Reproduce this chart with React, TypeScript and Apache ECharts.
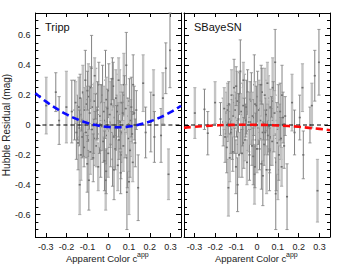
import React, { useEffect, useRef } from "react";
import * as echarts from "echarts";

const colorApp = [
  -0.298, -0.252, -0.236, -0.201, -0.175, -0.162, -0.137, -0.093, -0.08, -0.012,
  -0.013, 0.028, 0.075, 0.087, 0.09, 0.1, 0.12, 0.144, 0.168, 0.18,
  0.205, 0.218, 0.222, 0.254, 0.263, 0.277, 0.297, 0.29,
  -0.148, -0.145, -0.141, -0.138, -0.135, -0.131, -0.128, -0.125, -0.122, -0.119,
  -0.116, -0.113, -0.11, -0.107, -0.104, -0.101, -0.098, -0.095, -0.092, -0.089,
  -0.086, -0.083, -0.078, -0.075, -0.072, -0.069, -0.066, -0.063, -0.06, -0.057,
  -0.054, -0.051, -0.048, -0.045, -0.042, -0.039, -0.036, -0.033, -0.03, -0.027,
  -0.024, -0.021, -0.018, -0.015, -0.009, -0.006, -0.003, 0.0, 0.003, 0.006,
  0.009, 0.012, 0.015, 0.018, 0.021, 0.024, 0.027, 0.031, 0.034, 0.037,
  0.04, 0.043, 0.046, 0.049, 0.052, 0.055, 0.058, 0.061, 0.064, 0.067,
  0.07, 0.073, 0.078, 0.081, 0.084, 0.092, 0.095, 0.098, 0.102, 0.105,
  0.108, 0.111, 0.115, 0.118, 0.125, -0.153, -0.157, 0.13, 0.135, -0.065,
  0.02, -0.01, 0.05, -0.1, 0.06,
];

const trippResid = [
  0.13, 0.22, 0.03, 0.12, 0.09, 0.1, -0.4, -0.37, 0.38, -0.37,
  0.3, -0.3, 0.27, 0.4, -0.45, -0.38, 0.27, -0.42, 0.28, -0.05,
  0.02, 0.2, -0.08, -0.07, 0.18, 0.38, 0.5, -0.33,
  0.05, -0.12, 0.12, -0.02, 0.18, -0.2, 0.07, -0.08, 0.22, 0.0,
  -0.15, 0.1, 0.3, -0.05, 0.14, -0.26, 0.03, 0.19, -0.1, 0.08,
  -0.18, 0.25, -0.03, 0.12, -0.22, 0.04, 0.16, -0.09, 0.21, -0.14,
  0.01, 0.1, -0.28, 0.27, -0.06, 0.06, -0.17, 0.15, -0.01, 0.2,
  -0.11, 0.09, -0.24, 0.03, 0.17, -0.07, 0.11, -0.19, 0.23, -0.04,
  0.07, -0.13, 0.14, 0.0, -0.23, 0.26, -0.08, 0.05, -0.16, 0.18,
  -0.02, 0.09, -0.27, 0.13, -0.1, 0.22, 0.02, -0.2, 0.15, -0.05,
  0.08, -0.14, 0.2, -0.03, 0.11, -0.22, 0.06, -0.09, 0.16, -0.17,
  0.03, 0.12, -0.06, -0.25, 0.08, -0.05, 0.15, -0.12, 0.1, 0.33,
  0.31, -0.31, 0.3, 0.23, -0.32,
];

const trippErr = [
  0.19, 0.13, 0.16, 0.24, 0.21, 0.2, 0.2, 0.2, 0.22, 0.2,
  0.2, 0.2, 0.21, 0.22, 0.25, 0.22, 0.2, 0.22, 0.19, 0.17,
  0.2, 0.17, 0.17, 0.18, 0.17, 0.17, 0.25, 0.17,
  0.15, 0.18, 0.2, 0.12, 0.16, 0.17, 0.11, 0.14, 0.18, 0.21,
  0.13, 0.15, 0.2, 0.17, 0.12, 0.19, 0.14, 0.22, 0.11, 0.18,
  0.15, 0.14, 0.2, 0.13, 0.16, 0.23, 0.12, 0.18, 0.17, 0.14,
  0.11, 0.19, 0.16, 0.15, 0.13, 0.21, 0.18, 0.12, 0.16, 0.2,
  0.14, 0.17, 0.2, 0.12, 0.15, 0.19, 0.13, 0.16, 0.18, 0.11,
  0.22, 0.15, 0.17, 0.13, 0.18, 0.16, 0.2, 0.12, 0.14, 0.19,
  0.15, 0.11, 0.17, 0.21, 0.13, 0.15, 0.18, 0.16, 0.12, 0.2,
  0.14, 0.17, 0.13, 0.19, 0.16, 0.2, 0.12, 0.22, 0.15, 0.18,
  0.14, 0.2, 0.15, 0.13, 0.18, 0.18, 0.14, 0.16, 0.13, 0.12,
  0.14, 0.15, 0.15, 0.13, 0.14,
];

const sbayesnResid = [
  0.08, 0.105, -0.055, 0.15, 0.04, 0.02, -0.42, -0.4, 0.36, -0.33,
  0.27, -0.34, 0.25, 0.42, -0.46, -0.3, 0.2, -0.48, 0.15, -0.05,
  0.05, 0.25, -0.2, 0.0, 0.13, 0.33, 0.42, -0.44,
  0.08, -0.15, 0.1, 0.01, 0.14, -0.22, 0.04, -0.05, 0.2, -0.03,
  -0.18, 0.06, 0.25, -0.02, 0.1, -0.28, 0.05, 0.16, -0.08, 0.04,
  -0.2, 0.21, 0.0, 0.09, -0.19, 0.07, 0.13, -0.12, 0.18, -0.1,
  0.03, 0.12, -0.25, 0.22, -0.04, 0.02, -0.2, 0.17, 0.02, 0.16,
  -0.14, 0.06, -0.21, 0.05, 0.14, -0.1, 0.13, -0.16, 0.19, -0.02,
  0.1, -0.16, 0.11, 0.03, -0.26, 0.22, -0.05, 0.02, -0.13, 0.2,
  -0.05, 0.07, -0.3, 0.1, -0.07, 0.18, -0.01, -0.17, 0.12, -0.08,
  0.05, -0.11, 0.16, 0.0, 0.08, -0.25, 0.03, -0.12, 0.12, -0.2,
  0.0, 0.09, -0.09, -0.28, 0.05, -0.08, 0.11, -0.14, 0.06, 0.3,
  0.27, -0.28, 0.28, 0.26, -0.3,
];

const sbayesnErr = [
  0.17, 0.135, 0.145, 0.14, 0.11, 0.16, 0.19, 0.18, 0.21, 0.2,
  0.2, 0.2, 0.2, 0.22, 0.24, 0.2, 0.2, 0.22, 0.19, 0.15,
  0.15, 0.16, 0.16, 0.12, 0.15, 0.17, 0.22, 0.21,
  0.14, 0.17, 0.18, 0.12, 0.15, 0.16, 0.1, 0.14, 0.17, 0.2,
  0.13, 0.14, 0.19, 0.17, 0.12, 0.18, 0.13, 0.2, 0.11, 0.17,
  0.15, 0.14, 0.19, 0.12, 0.16, 0.21, 0.12, 0.17, 0.16, 0.14,
  0.11, 0.18, 0.15, 0.15, 0.13, 0.2, 0.17, 0.12, 0.15, 0.19,
  0.13, 0.16, 0.19, 0.12, 0.15, 0.18, 0.13, 0.16, 0.17, 0.11,
  0.2, 0.14, 0.16, 0.13, 0.17, 0.16, 0.19, 0.12, 0.14, 0.18,
  0.15, 0.11, 0.16, 0.2, 0.13, 0.15, 0.17, 0.15, 0.12, 0.19,
  0.14, 0.16, 0.13, 0.18, 0.15, 0.19, 0.12, 0.21, 0.15, 0.17,
  0.14, 0.19, 0.14, 0.13, 0.17, 0.17, 0.14, 0.15, 0.13, 0.12,
  0.13, 0.14, 0.14, 0.13, 0.14,
];

const curveX = [-0.35, -0.3, -0.25, -0.2, -0.15, -0.1, -0.05, 0, 0.05, 0.1, 0.15, 0.2, 0.25, 0.3, 0.35];
const trippFit = [0.213, 0.158, 0.111, 0.071, 0.039, 0.014, -0.003, -0.013, -0.015, -0.01, 0.003, 0.023, 0.051, 0.086, 0.129];
const sbayesnFit = [-0.019, -0.012, -0.007, -0.003, 0.0, 0.001, 0.002, 0.001, 0.0, -0.003, -0.007, -0.012, -0.019, -0.026, -0.035];

const xTicks = [-0.3, -0.2, -0.1, 0, 0.1, 0.2, 0.3];
const yTicks = [-0.6, -0.4, -0.2, 0, 0.2, 0.4, 0.6];
const yMinorTicks = [
  -0.7, -0.65, -0.6, -0.55, -0.5, -0.45, -0.4, -0.35, -0.3, -0.25, -0.2, -0.15, -0.1, -0.05, 0,
  0.05, 0.1, 0.15, 0.2, 0.25, 0.3, 0.35, 0.4, 0.45, 0.5, 0.55, 0.6, 0.65, 0.7,
];
const panelNames = ["Tripp", "SBayeSN"];
const xTitle = "Apparent Color c";
const xTitleSup = "app";
const yTitle = "Hubble Residual (mag)";

const FONT = '"Liberation Sans", Arial, Helvetica, sans-serif';
const TXT = "#222";

const fmt = (v: number) => (Math.abs(v) < 1e-9 ? "0" : v.toFixed(1));

function xAxes(g: number) {
  const base = {
    gridIndex: g,
    type: "value",
    min: -0.35,
    max: 0.35,
    splitLine: { show: false },
    axisLine: { show: true, onZero: false, lineStyle: { color: "#000", width: 1 } },
    axisTick: { show: true, inside: true, length: 4, customValues: xTicks, lineStyle: { color: "#000", width: 1 } },
  };
  return [
    {
      ...base,
      position: "bottom",
      axisLabel: { show: true, customValues: xTicks, formatter: fmt, fontSize: 9, color: TXT, fontFamily: FONT, margin: 5 },
    },
    { ...base, position: "top", axisLabel: { show: false } },
  ];
}

function yAxes(g: number, labels: boolean) {
  const base = {
    gridIndex: g,
    type: "value",
    min: -0.75,
    max: 0.75,
    splitLine: { show: false },
  };
  const major = (pos: string, showLabel: boolean) => ({
    ...base,
    position: pos,
    axisLine: { show: true, onZero: false, lineStyle: { color: "#000", width: 1 } },
    axisTick: { show: true, inside: true, length: 5, customValues: yTicks, lineStyle: { color: "#000", width: 1 } },
    axisLabel: showLabel
      ? { show: true, customValues: yTicks, formatter: fmt, fontSize: 9, color: TXT, fontFamily: FONT, margin: 5 }
      : { show: false },
  });
  const minor = (pos: string) => ({
    ...base,
    position: pos,
    axisLine: { show: false, onZero: false },
    axisTick: { show: true, inside: true, length: 3, customValues: yMinorTicks, lineStyle: { color: "#000", width: 1 } },
    axisLabel: { show: false },
  });
  const left: any = major("left", labels);
  if (labels) {
    left.name = yTitle;
    left.nameLocation = "middle";
    left.nameGap = 22;
    left.nameRotate = 90;
    left.nameTextStyle = { fontSize: 10, color: TXT, fontFamily: FONT };
  }
  return [left, minor("left"), major("right", false), minor("right")];
}

const renderBar = (params: any, api: any) => {
  const cs = params.coordSys;
  const x = api.value(0);
  const y = api.value(1);
  const e = api.value(2);
  const idx = api.value(3);
  const pt = api.coord([x, y + e]);
  const pb = api.coord([x, y - e]);
  const pm = api.coord([x, y]);
  const yTop = cs.y;
  const yBot = cs.y + cs.height;
  const light = idx % 3 === 0;
  const col = light ? "#c4c4c4" : "#838383";
  const capCol = light ? "#a0a0a0" : "#838383";
  const lw = light ? 2.4 : 1;
  const t = Math.max(pt[1], yTop);
  const b = Math.min(pb[1], yBot);
  const children: any[] = [
    { type: "line", shape: { x1: pm[0], y1: t, x2: pm[0], y2: b }, style: { stroke: col, lineWidth: lw } },
  ];
  if (pt[1] >= yTop)
    children.push({ type: "line", shape: { x1: pm[0] - 1.6, y1: pt[1], x2: pm[0] + 1.6, y2: pt[1] }, style: { stroke: capCol, lineWidth: 0.8 } });
  if (pb[1] <= yBot)
    children.push({ type: "line", shape: { x1: pm[0] - 1.6, y1: pb[1], x2: pm[0] + 1.6, y2: pb[1] }, style: { stroke: capCol, lineWidth: 0.8 } });
  if (pm[1] >= yTop && pm[1] <= yBot)
    children.push({ type: "rect", shape: { x: pm[0] - 1, y: pm[1] - 0.8, width: 2, height: 1.6 }, style: { fill: "#6e6e6e" } });
  return { type: "group", children };
};

function panelSeries(g: number, resid: number[], err: number[], fit: number[], fitColor: string) {
  const xi = g * 2;
  const yi = g * 4;
  return [
    {
      type: "custom",
      xAxisIndex: xi,
      yAxisIndex: yi,
      renderItem: renderBar,
      data: colorApp.map((c, i) => [c, resid[i], err[i], i]),
      z: 2,
    },
    {
      type: "line",
      xAxisIndex: xi,
      yAxisIndex: yi,
      data: [[-0.35, 0], [0.35, 0]],
      symbol: "none",
      lineStyle: { color: "#000", width: 1, type: [4, 3] },
      z: 3,
    },
    {
      type: "line",
      xAxisIndex: xi,
      yAxisIndex: yi,
      data: curveX.map((c, i) => [c, fit[i]]),
      smooth: true,
      symbol: "none",
      lineStyle: { color: fitColor, width: 2.6, type: [7, 4] },
      z: 4,
    },
  ];
}

export default function App() {
  const ref = useRef<HTMLDivElement>(null);
  useEffect(() => {
    if (!ref.current) return;
    const chart = echarts.init(ref.current, null, { renderer: "svg" });
    const option: any = {
      animation: false,
      backgroundColor: "#fff",
      grid: [
        { left: 35, top: 13, width: 146, height: 224 },
        { left: 184, top: 13, width: 146, height: 224 },
      ],
      xAxis: [...xAxes(0), ...xAxes(1)],
      yAxis: [...yAxes(0, true), ...yAxes(1, false)],
      series: [
        ...panelSeries(0, trippResid, trippErr, trippFit, "#0a0aff"),
        ...panelSeries(1, sbayesnResid, sbayesnErr, sbayesnFit, "#ff0a0a"),
      ],
      graphic: [
        { type: "text", x: 45, y: 27, style: { text: panelNames[0], fontSize: 11, fontFamily: FONT, fill: "#111", verticalAlign: "middle", textVerticalAlign: "middle" } },
        { type: "text", x: 194, y: 27, style: { text: panelNames[1], fontSize: 11, fontFamily: FONT, fill: "#111", verticalAlign: "middle", textVerticalAlign: "middle" } },
        { type: "text", x: 66, y: 258, style: { text: xTitle, fontSize: 9.5, fontFamily: FONT, fill: TXT, verticalAlign: "middle", textVerticalAlign: "middle" } },
        { type: "text", x: 137, y: 254, style: { text: xTitleSup, fontSize: 7, fontFamily: FONT, fill: TXT, verticalAlign: "middle", textVerticalAlign: "middle" } },
        { type: "text", x: 215, y: 258, style: { text: xTitle, fontSize: 9.5, fontFamily: FONT, fill: TXT, verticalAlign: "middle", textVerticalAlign: "middle" } },
        { type: "text", x: 286, y: 254, style: { text: xTitleSup, fontSize: 7, fontFamily: FONT, fill: TXT, verticalAlign: "middle", textVerticalAlign: "middle" } },
      ],
    };
    chart.setOption(option);
    return () => chart.dispose();
  }, []);
  return <div ref={ref} style={{ position: "absolute", left: 0, top: 0, width: 351, height: 264 }} />;
}
